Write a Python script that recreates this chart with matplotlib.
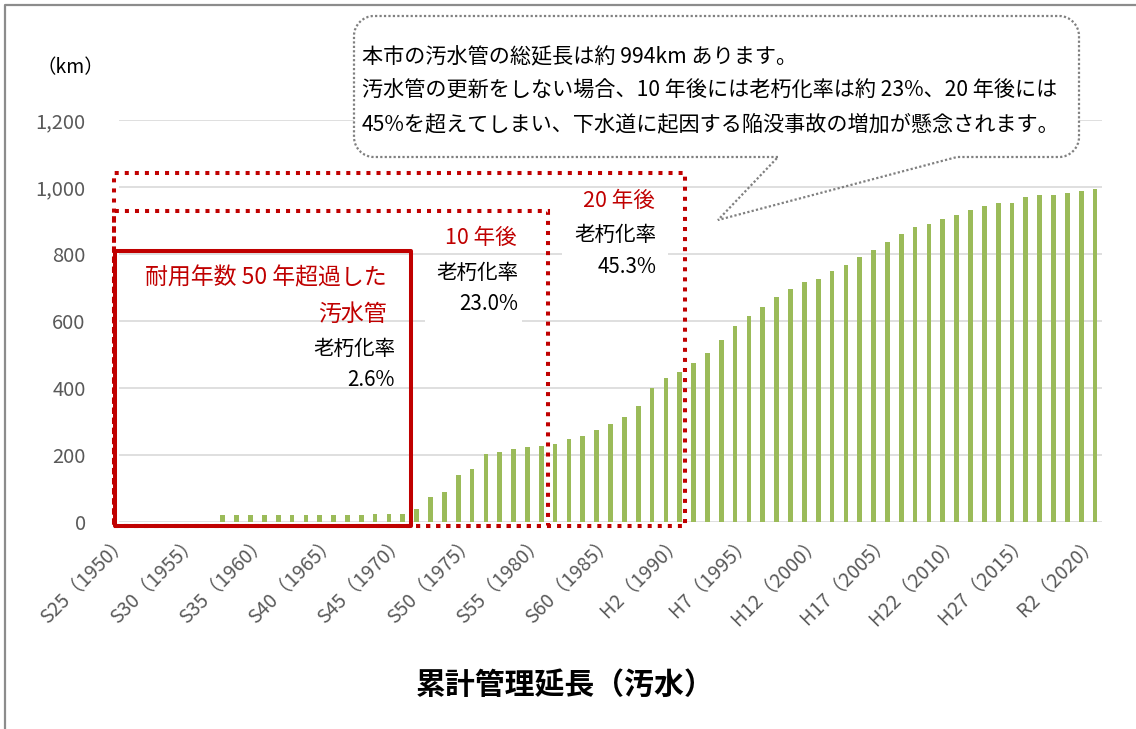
import matplotlib
matplotlib.use("Agg")
import matplotlib.pyplot as plt
from matplotlib.patches import Rectangle, PathPatch
from matplotlib.path import Path
from matplotlib.lines import Line2D

plt.rcParams['font.family'] = ['Noto Sans CJK JP', 'DejaVu Sans']

# cumulative length of sewer pipes (km), one value per fiscal year 1950-2020
years = list(range(1950, 2021))
length_km = [
    0, 0, 0, 0, 0, 0, 0,
    20, 20, 20, 20, 20, 20, 20, 20, 20, 20, 20,
    23, 23, 25, 38, 75, 90, 139, 158, 204, 208, 217, 224, 228,
    232, 247, 257, 274, 293, 312, 345, 400, 429, 449,
    474, 504, 542, 585, 615, 643, 672, 697, 716, 726,
    748, 768, 792, 813, 837, 861, 881, 890, 905, 917,
    932, 942, 952, 953, 969, 977, 977, 981, 987, 993,
]
tick_years = [1950, 1955, 1960, 1965, 1970, 1975, 1980, 1985, 1990,
              1995, 2000, 2005, 2010, 2015, 2020]
tick_labels = ['S25（1950）', 'S30（1955）', 'S35（1960）', 'S40（1965）',
               'S45（1970）', 'S50（1975）', 'S55（1980）', 'S60（1985）',
               'H2（1990）', 'H7（1995）', 'H12（2000）', 'H17（2005）',
               'H22（2010）', 'H27（2015）', 'R2（2020）']
y_ticks = [0, 200, 400, 600, 800, 1000, 1200]
y_labels = ['0', '200', '400', '600', '800', '1,000', '1,200']

bubble_lines = [
    '本市の汚水管の総延長は約 994km あります。',
    '汚水管の更新をしない場合、10 年後には老朽化率は約 23%、20 年後には',
    '45%を超えてしまい、下水道に起因する陥没事故の増加が懸念されます。',
]

W, H = 1136, 729
RED = '#C00000'
GRAY_TXT = '#595959'


def px(x, y):
    # pixel position (from top left) -> figure fraction
    return (x / W, 1 - y / H)


fig = plt.figure(figsize=(W / 100, H / 100), dpi=100)
ax = fig.add_axes([119 / W, 1 - 522 / H, 983 / W, 402 / H])

idx = list(range(len(years)))
ax.bar(idx, length_km, width=0.34, color='#9BBB59', zorder=3)

ax.set_xlim(-0.5, len(years) - 0.5)
ax.set_ylim(0, 1200)
ax.set_yticks(y_ticks)
ax.set_yticklabels(y_labels, fontsize=14.5, color=GRAY_TXT)
ax.set_xticks([years.index(y) for y in tick_years])
ax.set_xticklabels(tick_labels, fontsize=14, color=GRAY_TXT, rotation=45,
                   ha='right', va='center', rotation_mode='anchor')
ax.tick_params(axis='y', length=0, pad=24)
ax.tick_params(axis='x', length=0, pad=12)
ax.grid(axis='y', color='#D9D9D9', linewidth=1.2, zorder=0)
ax.set_axisbelow(True)
for s in ax.spines.values():
    s.set_visible(False)

# outer frame (only left and top visible in the crop)
fx, fy = zip(px(5, H + 5), px(5, 5), px(W + 5, 5))
fig.add_artist(Line2D(fx, fy, color='#8C8C8C', linewidth=1.6,
                      transform=fig.transFigure))

fig.text(*px(70, 68), '（km）', fontsize=14, ha='center', va='center')
fig.text(*px(565, 685), '累計管理延長（汚水）', fontsize=21.5, fontweight='bold',
         ha='center', va='center')


def rect(x0, y0, x1, y1, **kw):
    p0 = px(x0, y1)
    r = Rectangle(p0, (x1 - x0) / W, (y1 - y0) / H,
                  transform=fig.transFigure, **kw)
    fig.add_artist(r)


# frames around aged pipes
rect(114, 173, 685, 526, fill=False, edgecolor=RED, linewidth=2.9,
     linestyle=(0, (1, 1.5)), zorder=4)
rect(114, 211, 548, 526, fill=False, edgecolor=RED, linewidth=2.9,
     linestyle=(0, (1, 1.5)), zorder=4)
rect(115, 251, 411, 526, fill=False, edgecolor=RED, linewidth=2.9,
     joinstyle='round', zorder=5)

# white boxes behind labels
rect(425, 258, 522, 325, facecolor='white', edgecolor='none', zorder=3)
rect(562, 190, 668, 283, facecolor='white', edgecolor='none', zorder=3)

fig.text(*px(387, 278), '耐用年数 50 年超過した', color=RED, fontsize=16.5,
         ha='right', va='center', zorder=6)
fig.text(*px(387, 314), '汚水管', color=RED, fontsize=16.5,
         ha='right', va='center', zorder=6)
fig.text(*px(395, 349), '老朽化率', fontsize=14.8, ha='right', va='center', zorder=6)
fig.text(*px(395, 380), '2.6%', fontsize=14.8, ha='right', va='center', zorder=6)

fig.text(*px(517, 238), '10 年後', color=RED, fontsize=15.5,
         ha='right', va='center', zorder=6)
fig.text(*px(518, 273), '老朽化率', fontsize=14.8, ha='right', va='center', zorder=6)
fig.text(*px(518, 304), '23.0%', fontsize=14.8, ha='right', va='center', zorder=6)

fig.text(*px(655, 201), '20 年後', color=RED, fontsize=15.5,
         ha='right', va='center', zorder=6)
fig.text(*px(656, 235), '老朽化率', fontsize=14.8, ha='right', va='center', zorder=6)
fig.text(*px(656, 267), '45.3%', fontsize=14.8, ha='right', va='center', zorder=6)


# speech bubble
def bubble_path(L, T, R, B, r, tail=None):
    k = 0.5523 * r
    v = []
    c = []
    if tail:
        a, b, tip = tail
        v.append((a, B)); c.append(Path.MOVETO)
    else:
        v.append((R - r, B)); c.append(Path.MOVETO)
    v.append((L + r, B)); c.append(Path.LINETO)
    v += [(L + r - k, B), (L, B - r + k), (L, B - r)]; c += [Path.CURVE4] * 3
    v.append((L, T + r)); c.append(Path.LINETO)
    v += [(L, T + r - k), (L + r - k, T), (L + r, T)]; c += [Path.CURVE4] * 3
    v.append((R - r, T)); c.append(Path.LINETO)
    v += [(R - r + k, T), (R, T + r - k), (R, T + r)]; c += [Path.CURVE4] * 3
    v.append((R, B - r)); c.append(Path.LINETO)
    v += [(R, B - r + k), (R - r + k, B), (R - r, B)]; c += [Path.CURVE4] * 3
    if tail:
        v.append((b, B)); c.append(Path.LINETO)
        v.append(tip); c.append(Path.LINETO)
        v.append((a, B)); c.append(Path.LINETO)
    return Path([px(x, y) for x, y in v], c)


fig.add_artist(PathPatch(bubble_path(354, 16, 1079, 157, 20),
                         facecolor='white', edgecolor='none',
                         transform=fig.transFigure, zorder=6))
fig.add_artist(PathPatch(bubble_path(354, 16, 1079, 157, 20,
                                     tail=(778, 957, (718, 220))),
                         facecolor='none', edgecolor='#808080', linewidth=1.6,
                         linestyle=(0, (1, 1)), transform=fig.transFigure,
                         zorder=7))
for i, line in enumerate(bubble_lines):
    fig.text(*px(362, 57 + i * 33.5), line, fontsize=15.2,
             ha='left', va='center', zorder=8)

fig.savefig('out.png', dpi=100)
